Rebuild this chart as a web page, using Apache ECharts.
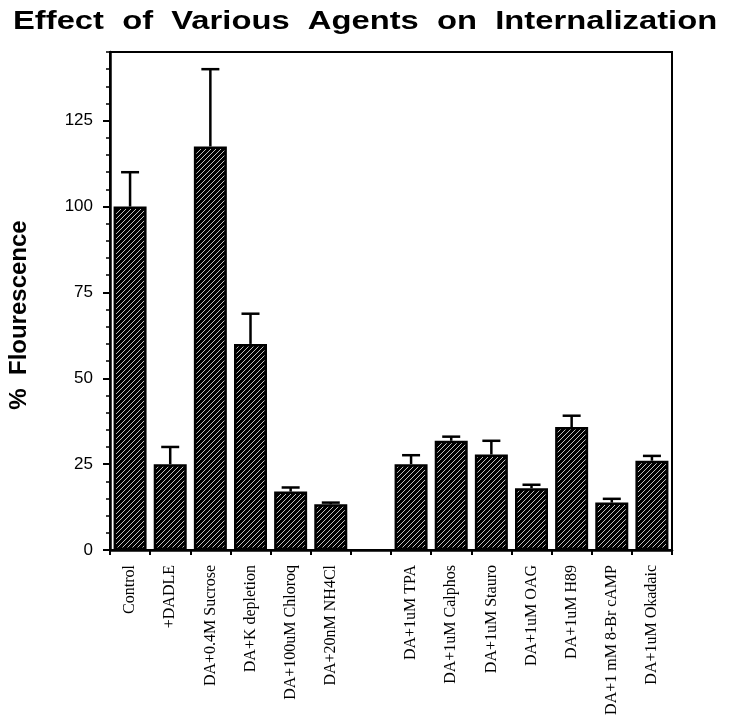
<!DOCTYPE html>
<html>
<head>
<meta charset="utf-8">
<script src="https://cdn.jsdelivr.net/npm/echarts@6/dist/echarts.min.js"></script>
<style>
html,body{margin:0;padding:0;background:#fff;}
#chart{width:729px;height:727px;}
</style>
</head>
<body>
<div id="chart"></div>
<script>
// ---- data ----
var categories = ['Control', '+DADLE', 'DA+0.4M Sucrose', 'DA+K depletion', 'DA+100uM Chloroq', 'DA+20nM NH4Cl', '',
  'DA+1uM TPA', 'DA+1uM Calphos', 'DA+1uM Stauro', 'DA+1uM OAG', 'DA+1uM H89', 'DA+1 mM 8-Br cAMP', 'DA+1uM Okadaic'];
var means  = [100, 25, 117.5, 60, 17, 13.3, null, 25, 31.8, 27.8, 18, 35.8, 13.8, 26];
var errors = [10, 5, 22.5, 8.8, 1.2, 0.5, null, 2.6, 1.2, 4, 1, 3.3, 1.1, 1.4];
var yTickValues = [0, 25, 50, 75, 100, 125];
var titleText = 'Effect  of  Various  Agents  on  Internalization';
var yTitle = '%  Flourescence';

// ---- hatch pattern ----
var pc = document.createElement('canvas');
pc.width = 5; pc.height = 5;
var ctx = pc.getContext('2d');
ctx.fillStyle = '#000';
ctx.fillRect(0, 0, 5, 5);
ctx.strokeStyle = '#c0c0c0';
ctx.lineWidth = 1.0;
ctx.beginPath();
ctx.moveTo(-1, 6); ctx.lineTo(6, -1);
ctx.moveTo(-3, 3); ctx.lineTo(3, -3);
ctx.moveTo(2, 8); ctx.lineTo(8, 2);
ctx.stroke();

var barData = means.map(function (v) { return v == null ? '-' : v; });
var errData = [];
means.forEach(function (v, i) {
  if (v != null) errData.push([i, v, errors[i]]);
});

var chart = echarts.init(document.getElementById('chart'), null, {renderer: 'canvas'});
chart.setOption({
  backgroundColor: '#fff',
  animation: false,
  graphic: [
    {
      type: 'text', left: 13, top: 10, scaleX: 1.31,
      style: {text: titleText, font: 'bold 25px "Liberation Sans", Arial, sans-serif', fill: '#000'}
    },
    {
      type: 'text', x: 19, y: 315, rotation: Math.PI / 2,
      style: {text: yTitle, font: 'bold 24px "Liberation Sans", Arial, sans-serif', fill: '#000',
        align: 'center', verticalAlign: 'middle'}
    }
  ],
  grid: {left: 110, right: 57, top: 52, bottom: 177, show: true, borderColor: '#000', borderWidth: 2, backgroundColor: 'transparent'},
  xAxis: {
    type: 'category', data: categories,
    axisLine: {lineStyle: {color: '#000', width: 2.5}},
    axisTick: {show: true, length: 5, interval: 0, lineStyle: {color: '#000', width: 2}},
    axisLabel: {interval: 0, rotate: 90, margin: 15, color: '#000',
      fontFamily: '"Liberation Serif", "Times New Roman", serif', fontSize: 16}
  },
  yAxis: [
    {
      type: 'value', min: 0, max: 145, interval: 25,
      splitLine: {show: false},
      axisLine: {show: true, lineStyle: {color: '#000', width: 2.5}},
      axisTick: {show: true, length: 7, lineStyle: {color: '#000', width: 2}},
      axisLabel: {margin: 17, color: '#000', fontFamily: '"Liberation Sans", Arial, sans-serif', fontSize: 17,
        showMaxLabel: false,
        formatter: function (v) { return yTickValues.indexOf(v) >= 0 ? String(v) : ''; }}
    },
    {
      type: 'value', min: 0, max: 145, interval: 5, position: 'left',
      splitLine: {show: false},
      axisLine: {show: false},
      axisTick: {show: true, length: 4, lineStyle: {color: '#000', width: 1.5}},
      axisLabel: {show: false}
    }
  ],
  series: [
    {
      type: 'bar', data: barData, barWidth: 33, yAxisIndex: 0,
      itemStyle: {color: {image: pc, repeat: 'repeat'}, borderColor: '#000', borderWidth: 2.5}
    },
    {
      type: 'custom', yAxisIndex: 0, z: 5, data: errData,
      renderItem: function (params, api) {
        var i = api.value(0), v = api.value(1), e = api.value(2);
        var base = api.coord([i, v]);
        var top = api.coord([i, v + e]);
        var hw = 9;
        return {
          type: 'group',
          children: [
            {type: 'line', shape: {x1: base[0], y1: base[1], x2: top[0], y2: top[1]},
              style: {stroke: '#000', lineWidth: 2.5}},
            {type: 'line', shape: {x1: top[0] - hw, y1: top[1], x2: top[0] + hw, y2: top[1]},
              style: {stroke: '#000', lineWidth: 2.5}}
          ]
        };
      }
    }
  ]
});
</script>
</body>
</html>
